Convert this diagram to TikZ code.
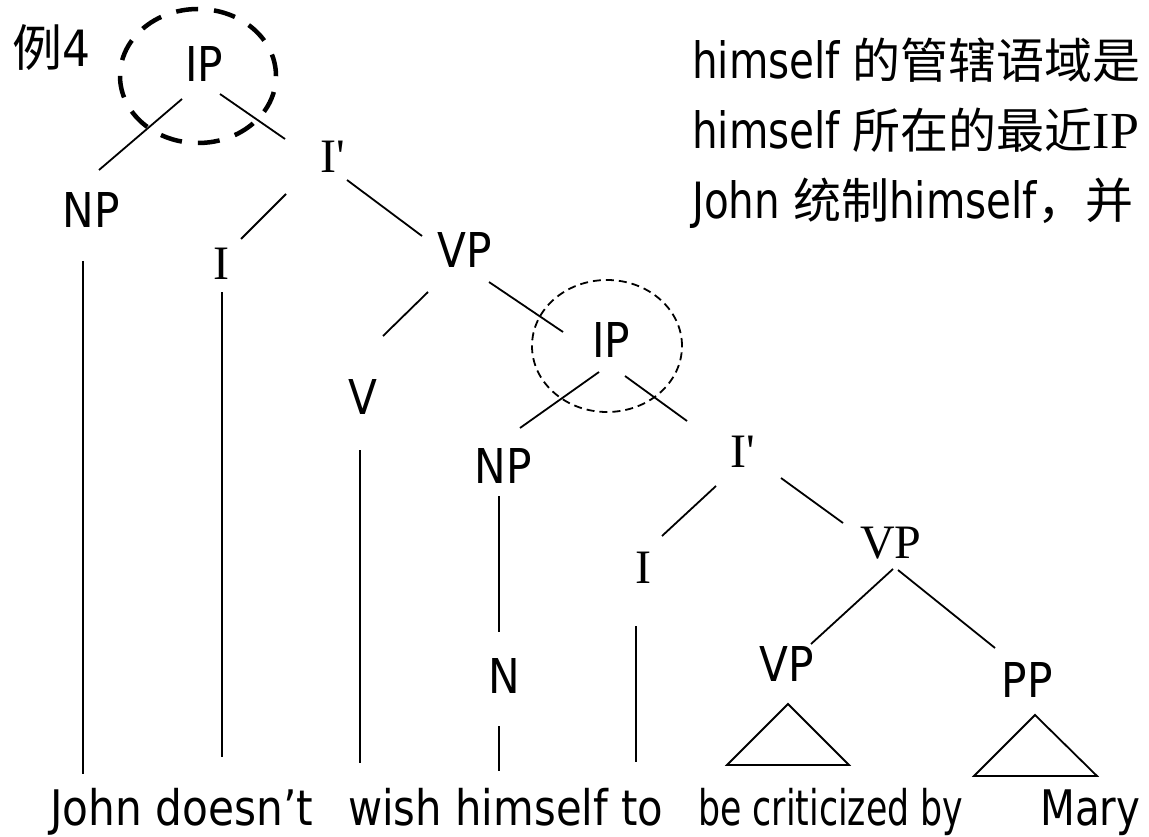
\documentclass[tikz,border=0pt]{standalone}
\usepackage{fontspec}
\usepackage{graphicx}
\usetikzlibrary{calc,shapes.geometric}
\setmainfont{DejaVu Sans}
\newfontfamily\tah{DejaVu Sans}[FakeStretch=0.88]
\newfontfamily\tahn{DejaVu Sans}[FakeStretch=0.81]
\newfontfamily\tnr{Liberation Serif}
\newfontfamily\cjk{Noto Sans CJK SC}
\newcommand\ZH[2][48]{{\cjk\fontsize{#1}{#1}\selectfont #2}}
\begin{document}
\begin{tikzpicture}[x=1pt,y=-1pt,
  sl/.style={inner sep=0pt, font=\tah\fontsize{48}{48}\selectfont},
  rl/.style={inner sep=0pt, font=\tnr\fontsize{48}{48}\selectfont},
  sent/.style={inner sep=0pt, anchor=base west, font=\tah\fontsize{49}{49}\selectfont},
  note/.style={inner sep=0pt, anchor=base west, font=\tahn\fontsize{50}{50}\selectfont},
  treeline/.style={line width=1.8pt},
  ringbig/.style={draw, ellipse, inner sep=0pt, line width=4.5pt, dash pattern=on 22pt off 16pt},
  ringsmall/.style={draw, ellipse, inner sep=0pt, line width=1.8pt, dash pattern=on 8pt off 5pt}
]
\fill[white] (0,0) rectangle (1149,837);
\useasboundingbox (0,0) rectangle (1149,837);
\clip (0,0) rectangle (1149,837);

% heading
\node[inner sep=0pt, anchor=base west] (ex) at (12,67) {\ZH[50]{例}{\tah\fontsize{50}{50}\selectfont 4}};

% tree labels
\node[sl] (ipA) at (204,64.5) {IP};
\node[sl] (npA) at (91,210) {NP};
\node[rl] (ibA) at (333,157) {I\textquotesingle};
\node[rl] (iA) at (221,264) {I};
\node[sl] (vpA) at (465,250) {VP};
\node[sl] (v) at (363,397) {V};
\node[sl] (ipB) at (611,340) {IP};
\node[sl] (npB) at (503,466) {NP};
\node[sl] (n) at (504,676) {N};
\node[rl] (ibB) at (743,452) {I\textquotesingle};
\node[rl] (iB) at (643,568) {I};
\node[rl] (vpB) at (891,543) {VP};
\node[sl] (vpC) at (787,664) {VP};
\node[sl] (pp) at (1027,680) {PP};

% dashed rings
\node[ringbig, minimum width=156pt, minimum height=134pt] (ringA) at (198,76) {};
\node[ringsmall, minimum width=150pt, minimum height=132pt] (ringB) at (607,346) {};

% leaf ends
\coordinate (lfJohn) at (83,774);
\coordinate (lfDoes) at (222,757);
\coordinate (lfWish) at (360,763);
\coordinate (lfHim) at (499,771);
\coordinate (lfTo) at (636,762);

% branches
\draw[treeline] ($(ipA)+(-22,34.5)$) -- ($(npA)+(8,-40)$);
\draw[treeline] ($(ipA)+(16,29.5)$) -- ($(ibA)+(-48,-18)$);
\draw[treeline] ($(ibA)+(-47,37)$) -- ($(iA)+(20,-25)$);
\draw[treeline] ($(ibA)+(14,23)$) -- ($(vpA)+(-43,-14)$);
\draw[treeline] ($(vpA)+(-37,42)$) -- ($(v)+(20,-61)$);
\draw[treeline] ($(vpA)+(24,32)$) -- ($(ipB)+(-48,-8)$);
\draw[treeline] ($(ipB)+(-12,32)$) -- ($(npB)+(17,-38)$);
\draw[treeline] ($(ipB)+(14,36)$) -- ($(ibB)+(-56,-31)$);
\draw[treeline] ($(ibB)+(-27,34)$) -- ($(iB)+(19,-32)$);
\draw[treeline] ($(ibB)+(38,26)$) -- ($(vpB)+(-48,-20)$);
\draw[treeline] ($(vpB)+(2,26)$) -- ($(vpC)+(24,-20)$);
\draw[treeline] ($(vpB)+(7,27)$) -- ($(pp)+(-32,-32)$);

% vertical lines
\draw[treeline] ($(npA)+(-8,51)$) -- (lfJohn);
\draw[treeline] ($(iA)+(1,28)$) -- (lfDoes);
\draw[treeline] ($(v)+(-3,53)$) -- (lfWish);
\draw[treeline] ($(npB)+(-4,30)$) -- ($(n)+(-5,-44)$);
\draw[treeline] ($(n)+(-5,50)$) -- (lfHim);
\draw[treeline] ($(iB)+(-7,58)$) -- (lfTo);

% triangles
\draw[treeline] ($(vpC)+(1,40)$) -- ++(-61,61) -- ++(122,0) -- cycle;
\draw[treeline] ($(pp)+(8,35)$) -- ++(-61,61) -- ++(123,0) -- cycle;

% sentence
\node[sent] (s1) at (50,825) {\resizebox{263pt}{\height}{John doesn’t}};
\node[sent] (s2) at (348,825) {\resizebox{315pt}{\height}{wish himself to}};
\node[sent] (s3) at (698,825) {\resizebox{265pt}{\height}{be criticized by}};
\node[sent] (s4) at (1040,825) {\resizebox{100pt}{\height}{Mary}};

% notes
\node[note] (t1) at (692,79) {himself \ZH{的管辖语域是}};
\node[note] (t2) at (692,149) {himself \ZH{所在的最近}{\tnr\fontsize{52}{52}\selectfont IP}};
\node[note] (t3) at (692,219) {John \ZH{统制}himself\ZH{，并}};
\end{tikzpicture}
\end{document}
